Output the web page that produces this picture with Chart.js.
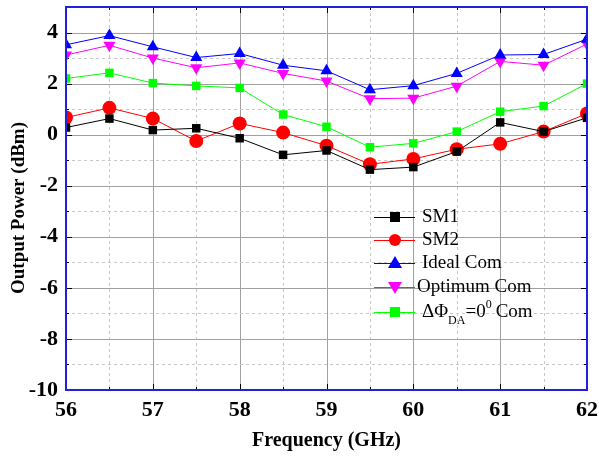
<!DOCTYPE html>
<html>
<head>
<meta charset="utf-8">
<script src="https://cdn.jsdelivr.net/npm/chart.js@4"></script>
<style>
  body { margin: 0; background: #fff; }
</style>
</head>
<body>
<canvas id="chart" width="599" height="457"></canvas>
<script>
const freq = [56, 56.5, 57, 57.5, 58, 58.5, 59, 59.5, 60, 60.5, 61, 61.5, 62];
const sm1 = [0.28, 0.63, 0.18, 0.25, -0.14, -0.79, -0.62, -1.37, -1.27, -0.66, 0.48, 0.12, 0.66];
const sm2 = [0.67, 1.05, 0.63, -0.25, 0.44, 0.08, -0.43, -1.16, -0.95, -0.57, -0.36, 0.12, 0.83];
const idealCom = [3.52, 3.88, 3.44, 3.02, 3.18, 2.72, 2.5, 1.76, 1.92, 2.4, 3.12, 3.14, 3.74];
const optimumCom = [3.12, 3.5, 3.0, 2.62, 2.81, 2.4, 2.1, 1.41, 1.43, 1.9, 2.87, 2.72, 3.55];
const zeroCom = [2.2, 2.42, 2.02, 1.91, 1.83, 0.79, 0.31, -0.49, -0.34, 0.12, 0.9, 1.12, 2.0];
const xTicks = [56, 57, 58, 59, 60, 61, 62];
const yTicks = [-10, -8, -6, -4, -2, 0, 2, 4];

function series(label, values, color, style, rotation) {
  return {
    label: label,
    data: freq.map((f, i) => ({ x: f, y: values[i] })),
    borderColor: color,
    backgroundColor: color,
    borderWidth: 1,
    pointStyle: style,
    pointRotation: rotation || 0,
    pointRadius: style === "rect" ? 6 : 7,
    pointBorderWidth: 0,
    tension: 0
  };
}

// grid, frame, inward ticks, y title and the legend
const decor = {
  id: "decor",
  beforeDatasetsDraw(chart) {
    const { ctx, chartArea: a, scales: { x, y } } = chart;
    ctx.save();
    ctx.lineWidth = 1;
    for (let v = 56; v <= 62.001; v += 0.5) {
      const px = Math.round(x.getPixelForValue(v)) + 0.5;
      const major = Math.abs(v - Math.round(v)) < 0.01;
      ctx.strokeStyle = major ? "#a0a0a0" : "#c8c8c8";
      ctx.setLineDash(major ? [] : [3, 3]);
      ctx.beginPath(); ctx.moveTo(px, a.top); ctx.lineTo(px, a.bottom); ctx.stroke();
    }
    for (let v = -9; v <= 5; v += 1) {
      const py = Math.round(y.getPixelForValue(v)) + 0.5;
      const major = v % 2 === 0;
      ctx.strokeStyle = major ? "#a0a0a0" : "#c8c8c8";
      ctx.setLineDash(major ? [] : [3, 3]);
      ctx.beginPath(); ctx.moveTo(a.left, py); ctx.lineTo(a.right, py); ctx.stroke();
    }
    ctx.setLineDash([]);
    ctx.strokeStyle = "#000";
    for (let v = 56; v <= 62.001; v += 0.5) {
      const px = Math.round(x.getPixelForValue(v)) + 0.5;
      const len = Math.abs(v - Math.round(v)) < 0.01 ? 6 : 3;
      ctx.beginPath();
      ctx.moveTo(px, a.bottom); ctx.lineTo(px, a.bottom - len);
      ctx.moveTo(px, a.top); ctx.lineTo(px, a.top + len);
      ctx.stroke();
    }
    for (let v = -9; v <= 5; v += 1) {
      const py = Math.round(y.getPixelForValue(v)) + 0.5;
      const len = v % 2 === 0 ? 6 : 3;
      ctx.beginPath();
      ctx.moveTo(a.left, py); ctx.lineTo(a.left + len, py);
      ctx.moveTo(a.right, py); ctx.lineTo(a.right - len, py);
      ctx.stroke();
    }
    ctx.restore();
  },
  afterDraw(chart) {
    const { ctx, chartArea: a } = chart;
    ctx.save();
    ctx.strokeStyle = "#2020e0";
    ctx.lineWidth = 2;
    ctx.strokeRect(a.left, a.top, a.right - a.left, a.bottom - a.top);

    // y axis title, sits a bit below the plot centre in the original
    ctx.save();
    ctx.translate(19, 208);
    ctx.rotate(-Math.PI / 2);
    ctx.fillStyle = "#000";
    ctx.font = "bold 19px 'Liberation Serif'";
    ctx.textAlign = "center";
    ctx.textBaseline = "middle";
    ctx.fillText("Output Power (dBm)", 0, 0);
    ctx.restore();

    const rows = [217, 240, 263, 287, 312];
    chart.data.datasets.forEach((ds, i) => {
      const yy = rows[i];
      ctx.strokeStyle = ds.borderColor;
      ctx.lineWidth = 1;
      ctx.beginPath(); ctx.moveTo(374, yy + 0.5); ctx.lineTo(415, yy + 0.5); ctx.stroke();
      drawMarker(ctx, ds, 395, yy);
      ctx.fillStyle = "#000";
      ctx.font = "19px 'Liberation Serif'";
      ctx.textBaseline = "middle";
      ctx.textAlign = "left";
      const tx = i === 3 ? 417 : 422;
      if (i === 4) {
        ctx.fillText("\u0394\u03A6", tx, yy);
        let w = ctx.measureText("\u0394\u03A6").width;
        ctx.font = "12px 'Liberation Serif'";
        ctx.fillText("DA", tx + w, yy + 9);
        w += ctx.measureText("DA").width;
        ctx.font = "19px 'Liberation Serif'";
        ctx.fillText("=0", tx + w, yy);
        w += ctx.measureText("=0").width;
        ctx.font = "12px 'Liberation Serif'";
        ctx.fillText("0", tx + w, yy - 7);
        w += ctx.measureText("0").width + 4;
        ctx.font = "19px 'Liberation Serif'";
        ctx.fillText("Com", tx + w, yy);
      } else {
        ctx.fillText(ds.label, tx, yy);
      }
    });
    ctx.restore();
  }
};

function drawMarker(ctx, ds, cx, cy) {
  ctx.fillStyle = ds.backgroundColor;
  ctx.beginPath();
  if (ds.pointStyle === "rect") {
    ctx.rect(cx - 5, cy - 5, 10, 10);
  } else if (ds.pointStyle === "circle") {
    ctx.arc(cx, cy, 6, 0, Math.PI * 2);
  } else {
    const s = ds.pointRotation ? -1 : 1;
    ctx.moveTo(cx, cy - 7 * s);
    ctx.lineTo(cx + 7, cy + 5 * s);
    ctx.lineTo(cx - 7, cy + 5 * s);
    ctx.closePath();
  }
  ctx.fill();
}

const tickFont = { family: "'Liberation Serif'", size: 22, weight: "bold" };

new Chart(document.getElementById("chart"), {
  type: "line",
  data: {
    datasets: [
      series("SM1", sm1, "#000000", "rect"),
      series("SM2", sm2, "#ff0000", "circle"),
      series("Ideal Com", idealCom, "#0000ff", "triangle"),
      series("Optimum Com", optimumCom, "#ff00ff", "triangle", 180),
      series("\u0394\u03A6DA=00 Com", zeroCom, "#00ff00", "rect")
    ]
  },
  options: {
    responsive: false,
    animation: false,
    layout: { padding: { top: 5, right: 12, left: 0, bottom: 0 } },
    plugins: { legend: { display: false }, tooltip: { enabled: false } },
    scales: {
      x: {
        type: "linear",
        min: 56, max: 62,
        afterBuildTicks: s => { s.ticks = xTicks.map(v => ({ value: v })); },
        afterFit: s => { s.height = 67; s.paddingLeft = 0; s.paddingRight = 0; },
        grid: { drawOnChartArea: false, drawTicks: false },
        border: { display: false },
        ticks: { color: "#000", font: tickFont, padding: 7 },
        title: {
          display: true, text: "Frequency (GHz)", color: "#000",
          font: { family: "'Liberation Serif'", size: 20, weight: "bold" },
          padding: { top: 2, bottom: 4 }
        }
      },
      y: {
        min: -10, max: 5,
        afterBuildTicks: s => { s.ticks = yTicks.map(v => ({ value: v })); },
        afterFit: s => { s.width = 66; s.paddingTop = 0; s.paddingBottom = 0; },
        grid: { drawOnChartArea: false, drawTicks: false },
        border: { display: false },
        ticks: { color: "#000", font: tickFont, padding: 8 },
        title: { display: false }
      }
    }
  },
  plugins: [decor]
});
</script>
</body>
</html>
